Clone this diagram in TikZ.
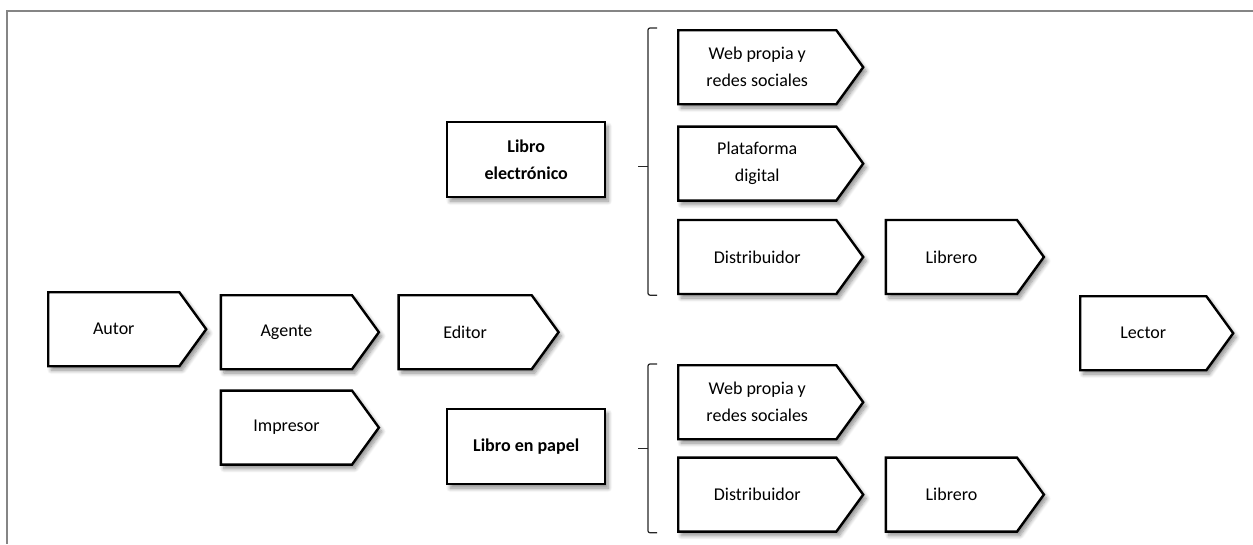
\documentclass[tikz,border=0pt]{standalone}
\usepackage{fontspec}
\setmainfont{Carlito}
\usetikzlibrary{shapes,shadows,shadows.blur,positioning,calc}

\begin{document}
\begin{tikzpicture}[
        x=1pt, y=-1pt,
        node distance=14pt,
        tag/.style={signal, signal to=east, signal pointer angle=108, draw, line width=2.4pt, fill=white,
            align=center, minimum width=158pt, minimum height=74pt, inner sep=0pt,
            font=\fontsize{18}{27}\selectfont,
            blur shadow={shadow xshift=3pt, shadow yshift=-4pt, shadow blur radius=4pt, shadow blur steps=8, shadow opacity=45}},
        wide/.style={tag, minimum width=185pt},
        kind/.style={rectangle, draw, line width=2.4pt, fill=white, align=center,
            minimum width=158pt, minimum height=75pt, inner sep=0pt,
            font=\fontsize{18}{27}\selectfont\bfseries,
            blur shadow={shadow xshift=3pt, shadow yshift=-4pt, shadow blur radius=4pt, shadow blur steps=8, shadow opacity=45}},
        brace/.style={draw=black!85, line width=1.2pt, rounded corners=2pt},
        frame/.style={draw=black!48, line width=2.6pt}
    ]
        \useasboundingbox (0,0) rectangle (1253,544);
        \draw[frame] (1253,11) -- (7,11) -- (7,544);

        % left chain
        \node[tag, anchor=north west] (autor) at (47,291) {Autor};
        \node[tag, right=12pt of autor, yshift=-3pt] (agente) {Agente};
        \node[tag, below=19pt of agente] (impresor) {Impresor};
        \node[tag, right=17pt of agente, minimum width=160pt] (editor) {Editor};

        % formats
        \node[kind, anchor=north west] (ebook) at (446,121) {Libro\\electrónico};
        \node[kind, anchor=north west] (papel) at (446,408) {Libro en papel};

        % e-book channels
        \node[wide, anchor=north west] (web) at (677,29) {Web propia y\\redes sociales};
        \node[wide, below=20pt of web] (plataforma) {Plataforma\\digital};
        \node[wide, below=17pt of plataforma] (distrib) {Distribuidor};
        \node[tag, right=20pt of distrib] (librero) {Librero};

        % paper channels
        \node[wide, anchor=north west] (webpapel) at (677,364) {Web propia y\\redes sociales};
        \node[wide, below=16pt of webpapel] (distribpapel) {Distribuidor};
        \node[tag, right=20pt of distribpapel] (libreropapel) {Librero};

        \node[tag, anchor=north west, minimum width=153pt] (lector) at (1079,295) {Lector};

        % braces
        \draw[brace] ([shift={(-20pt,1pt)}]web.north west) -| ([xshift=-29pt]distrib.south west) -- ([xshift=-20pt]distrib.south west);
        \draw[brace] ([shift={(-29pt,-3pt)}]plataforma.west) -- ++(-10pt,0);
        \draw[brace] ([xshift=-20pt]webpapel.north west) -| ([xshift=-29pt]distribpapel.south west) -- ([xshift=-20pt]distribpapel.south west);
        \draw[brace] ($(webpapel.north west)!.5!(distribpapel.south west)+(-29pt,0)$) -- ++(-10pt,0);
    \end{tikzpicture}
\end{document}
